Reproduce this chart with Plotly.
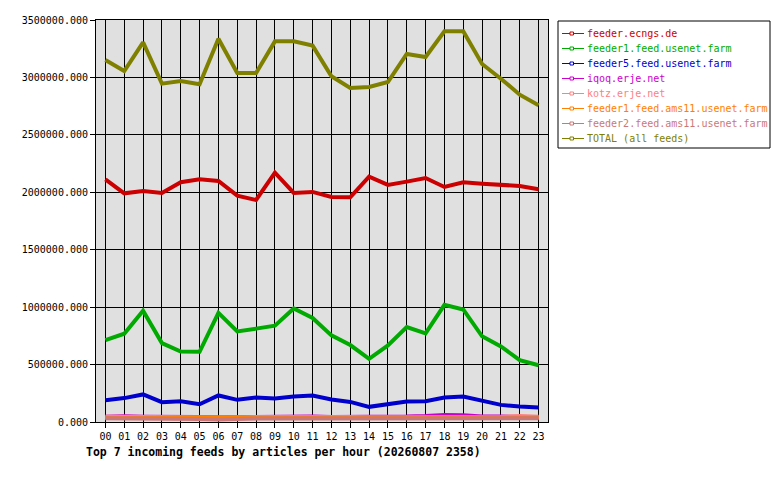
import plotly.graph_objects as go

hours = ["%02d" % h for h in range(24)]

feeder_ecngs = [2113000, 1991000, 2011000, 1994000, 2087000, 2113000, 2098000, 1971000,
                1933000, 2171000, 1994000, 2003000, 1959000, 1956000, 2136000, 2064000,
                2093000, 2124000, 2046000, 2087000, 2075000, 2064000, 2055000, 2026000]
feeder1_usenet = [713000, 769000, 968000, 687000, 614000, 611000, 950000, 789000,
                  813000, 839000, 988000, 906000, 754000, 670000, 550000, 667000,
                  827000, 772000, 1020000, 980000, 746000, 658000, 538000, 494000]
feeder5_usenet = [190000, 208000, 240000, 173000, 181000, 155000, 231000, 193000,
                  213000, 205000, 222000, 231000, 196000, 175000, 132000, 155000,
                  178000, 181000, 213000, 222000, 187000, 149000, 135000, 126000]
iqoq = [45000, 50000, 46000, 48000, 48000, 44000, 42000, 44000,
        44000, 45000, 45000, 47000, 44000, 43000, 47000, 47000,
        47000, 52000, 62000, 58000, 48000, 47000, 44000, 42000]
kotz = [45000, 44000, 40000, 42000, 40000, 40000, 36000, 40000,
        44000, 44000, 44000, 52000, 44000, 44000, 42000, 42000,
        44000, 44000, 48000, 46000, 44000, 44000, 52000, 46000]
feeder1_ams11 = [35000, 36000, 36000, 40000, 40000, 34000, 34000, 42000,
                 36000, 36000, 36000, 38000, 36000, 38000, 38000, 38000,
                 36000, 36000, 38000, 42000, 38000, 38000, 38000, 38000]
feeder2_ams11 = [32000, 32000, 30000, 32000, 26000, 26000, 22000, 28000,
                 30000, 30000, 30000, 32000, 30000, 28000, 28000, 28000,
                 32000, 26000, 30000, 30000, 30000, 30000, 32000, 32000]
total = [3152000, 3056000, 3305000, 2946000, 2969000, 2940000, 3337000, 3039000,
         3039000, 3314000, 3314000, 3277000, 3010000, 2908000, 2917000, 2960000,
         3204000, 3178000, 3401000, 3401000, 3117000, 2989000, 2850000, 2757000]

series = [
    ("feeder.ecngs.de", feeder_ecngs, "#cc0000"),
    ("feeder1.feed.usenet.farm", feeder1_usenet, "#00aa00"),
    ("feeder5.feed.usenet.farm", feeder5_usenet, "#0000cc"),
    ("iqoq.erje.net", iqoq, "#cc00cc"),
    ("kotz.erje.net", kotz, "#ff8080"),
    ("feeder1.feed.ams11.usenet.farm", feeder1_ams11, "#ff8000"),
    ("feeder2.feed.ams11.usenet.farm", feeder2_ams11, "#cc7777"),
    ("TOTAL (all feeds)", total, "#808000"),
]

# figure size / margins (page has an 8px body margin)
W, H = 772, 472
ML, MR, MT, MB = 88, 232, 12, 58
PW, PH = W - ML - MR, H - MT - MB


def px(x):
    # figure pixel -> paper x
    return (x - ML) / PW


def py(y):
    # figure pixel -> paper y
    return (H - MB - y) / PH


fig = go.Figure()
for name, vals, color in series:
    fig.add_trace(go.Scatter(
        x=list(range(24)), y=vals, mode="lines",
        line=dict(color=color, width=4),
        name=name, showlegend=False
    ))

mono = "DejaVu Sans Mono"

# hand-drawn legend box, like the gd-style original
shapes = [dict(type="rect", xref="paper", yref="paper",
               x0=px(550), x1=px(762), y0=py(13), y1=py(140),
               line=dict(color="black", width=1), fillcolor="white", layer="above")]
annotations = []
for i, (name, vals, color) in enumerate(series):
    yc = 25.5 + 15 * i
    shapes.append(dict(type="line", xref="paper", yref="paper",
                       x0=px(554), x1=px(576), y0=py(yc), y1=py(yc),
                       line=dict(color=color, width=1), layer="above"))
    shapes.append(dict(type="rect", xref="paper", yref="paper",
                       x0=px(562), x1=px(565.5), y0=py(yc - 1.5), y1=py(yc + 1.5),
                       line=dict(color=color, width=1), fillcolor="white", layer="above"))
    annotations.append(dict(
        text=name, xref="paper", yref="paper", x=px(577), y=py(yc),
        xanchor="left", yanchor="middle", showarrow=False,
        font=dict(family=mono, size=10, color=color),
    ))

annotations.append(dict(
    text="<b>Top 7 incoming feeds by articles per hour (20260807 2358)</b>",
    xref="paper", yref="paper", x=px(76), y=py(444),
    xanchor="left", yanchor="middle", showarrow=False,
    font=dict(family=mono, size=11.5, color="black"),
))

fig.update_layout(
    width=W, height=H,
    paper_bgcolor="white", plot_bgcolor="#e0e0e0",
    margin=dict(l=ML, r=MR, t=MT, b=MB),
    font=dict(family=mono, size=10, color="black"),
    showlegend=False,
    xaxis=dict(
        range=[-0.5, 23.5], tickmode="array", tickvals=list(range(24)), ticktext=hours,
        showgrid=True, gridcolor="black", gridwidth=1, zeroline=False,
        showline=True, linecolor="black", linewidth=1, mirror=True,
        ticks="outside", ticklen=5, tickcolor="black", tickfont=dict(size=10),
        automargin=False,
    ),
    yaxis=dict(
        range=[0, 3500000], dtick=500000, tickformat=".3f",
        showgrid=True, gridcolor="black", gridwidth=1, zeroline=False,
        showline=True, linecolor="black", linewidth=1, mirror=True,
        ticks="outside", ticklen=5, tickcolor="black", tickfont=dict(size=10),
        automargin=False,
    ),
    shapes=shapes,
    annotations=annotations,
)

fig.write_html("out.html")
